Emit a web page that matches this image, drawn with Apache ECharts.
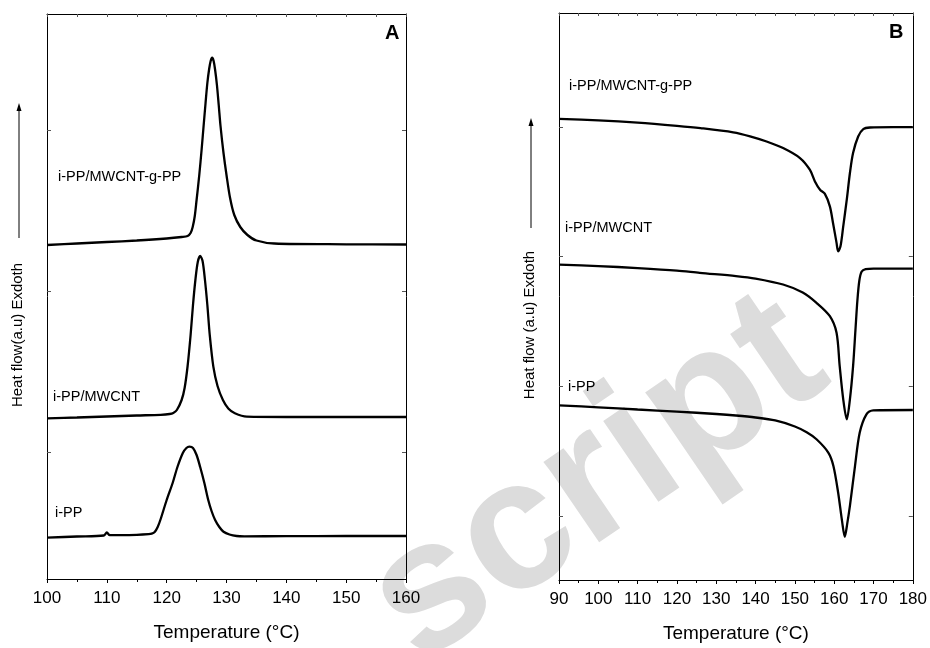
<!DOCTYPE html>
<html>
<head>
<meta charset="utf-8">
<script src="https://cdn.jsdelivr.net/npm/echarts@6/dist/echarts.min.js"></script>
<style>
  html, body { margin: 0; padding: 0; background: #fff; }
  #chart { width: 930px; height: 648px; }
</style>
</head>
<body>
<div id="chart"></div>
<script>
// Panel A: crystallisation (cooling) curves, heat flow in arbitrary units
var tempA_iPP = [100, 105, 109.5, 110, 110.5, 115, 117, 117.5, 118, 118.5, 119, 120, 121, 121.8, 122.7, 123.3, 123.8, 124.4, 125, 125.6, 126.3, 126.95, 127.5, 128.1, 128.8, 129.5, 130.5, 131.7, 133, 140, 150, 160];
var flowA_iPP = [41.3, 42.5, 43.5, 46.5, 43.8, 44.2, 44.8, 45.3, 47, 52, 60, 79, 96, 112, 126, 131, 132.3, 131, 124, 112, 96, 79, 68, 59, 52, 47.3, 44.5, 43, 42.7, 42.8, 43, 43];

var tempA_cnt = [100, 105, 110, 115, 119, 120.5, 121.1, 121.7, 122.5, 123, 123.5, 124, 124.4, 124.8, 125.2, 125.6, 126, 126.4, 126.8, 127.2, 127.8, 128.5, 129.4, 130.3, 131.4, 133.4, 140, 150, 160];
var flowA_cnt = [160.7, 161.5, 162.5, 163.5, 164.2, 165, 166, 169, 179, 191, 213, 244, 274, 299, 317, 323, 318, 299, 274, 244, 212.3, 193, 179, 170.5, 165.7, 162.3, 162, 162, 162];

var tempA_g = [100, 105, 110, 115, 120, 122.5, 123.5, 124.0, 124.35, 124.7, 125.0, 125.45, 125.85, 126.2, 126.5, 126.8, 127.1, 127.35, 127.6, 127.85, 128.1, 128.4, 128.7, 129.0, 129.5, 130.0, 130.6, 131.3, 132.3, 133.5, 135, 138, 150, 160];
var flowA_g = [334, 335.5, 337, 338.5, 340.5, 342, 343, 346, 352, 363, 379, 404, 430, 455, 476, 496, 510, 518, 521.3, 518, 509, 494, 474, 453, 426, 404, 381, 364, 352, 344, 338.5, 335.5, 334.7, 334.5];

// Panel B: melting (heating) curves
var tempB_iPP = [90, 100, 110, 120, 130, 135, 140, 145, 150, 153, 155.5, 158.5, 159.8, 161.0, 162.0, 162.7, 163.3, 164.0, 165.3, 166.5, 168.2, 169.9, 180];
var flowB_iPP = [175, 173, 170.8, 168.7, 166.3, 164.8, 162.8, 159.8, 153.8, 148, 141, 127.7, 114.3, 87.7, 59, 43.3, 56, 74.3, 114.3, 147.7, 166, 170, 170.3];

var tempB_cnt = [90, 100, 110, 120, 125.8, 135, 140, 147, 152, 155.5, 158.9, 160.6, 161.4, 162.3, 163.2, 164.0, 164.8, 165.4, 165.9, 166.4, 167.0, 168, 170, 180];
var flowB_cnt = [316, 314.5, 312.5, 310, 307.7, 304.5, 302, 296, 288, 277.7, 264.3, 247.7, 214.3, 181, 161, 181, 214, 250, 280, 300, 309, 311.5, 312, 312];

var tempB_g = [90, 100, 110, 120, 126, 134.3, 138.6, 142.8, 147, 151.3, 153.8, 155.1, 156.4, 157.6, 158.9, 159.7, 160.6, 161.0, 161.6, 162.3, 163.2, 164.0, 164.8, 166.1, 167.4, 169.1, 175, 180];
var flowB_g = [462, 460.5, 458.2, 455, 452.7, 448.5, 444.5, 439.3, 432.7, 422.7, 411, 399.3, 391, 387, 374.3, 357.7, 337.7, 329.3, 334.3, 354.3, 381, 407.7, 427.7, 444.3, 451.7, 453.3, 453.7, 453.7];

var ticksA = [127, 288, 449];
var ticksB = [64, 194, 324, 454];

var FONT = "'Liberation Sans', Arial, sans-serif";

function zip(xs, ys) {
  var out = [];
  for (var i = 0; i < xs.length; i++) out.push([xs[i], ys[i]]);
  return out;
}

function bottomAxis(grid, min, max) {
  return {
    type: "value", gridIndex: grid, position: "bottom", min: min, max: max, interval: 10,
    name: "Temperature (\u00B0C)", nameLocation: "middle", nameGap: 44,
    nameTextStyle: { fontFamily: FONT, fontSize: 19, color: "#000" },
    axisLine: { show: true, onZero: false, lineStyle: { color: "#000", width: 1 } },
    axisTick: { show: true, inside: false, length: 4, lineStyle: { color: "#000" } },
    minorTick: { show: true, splitNumber: 2, length: 3, lineStyle: { color: "#000" } },
    axisLabel: { fontFamily: FONT, fontSize: 17, color: "#000", margin: 11 },
    splitLine: { show: false }
  };
}
function topAxis(grid, min, max) {
  return {
    type: "value", gridIndex: grid, position: "top", min: min, max: max, interval: 10,
    axisLine: { show: true, onZero: false, lineStyle: { color: "#000", width: 1 } },
    axisTick: { show: true, inside: true, length: 3, lineStyle: { color: "#555" } },
    minorTick: { show: true, splitNumber: 2, length: 3, lineStyle: { color: "#555" } },
    axisLabel: { show: false },
    splitLine: { show: false }
  };
}
function sideAxis(grid, pos, max, ticks) {
  return {
    type: "value", gridIndex: grid, position: pos, min: 0, max: max,
    axisLine: { show: true, onZero: false, lineStyle: { color: "#000", width: 1 } },
    axisTick: { show: true, inside: true, length: 4, customValues: ticks, lineStyle: { color: "#555" } },
    axisLabel: { show: false },
    splitLine: { show: false }
  };
}
function curve(xi, yi, data) {
  return {
    type: "line", xAxisIndex: xi, yAxisIndex: yi, data: data,
    showSymbol: false, smooth: 0.3,
    lineStyle: { color: "#000", width: 2.3 }, z: 5, silent: true
  };
}
function label(x, y, text) {
  return { type: "text", x: x, y: y, z: 10,
    style: { text: text, fontFamily: FONT, fontSize: 14.5, fill: "#000", textVerticalAlign: "middle" } };
}
function arrow(x, y1, y2) {
  return [
    { type: "line", shape: { x1: x, y1: y1, x2: x, y2: y2 + 6 }, style: { stroke: "#000", lineWidth: 1 }, z: 10 },
    { type: "polygon", shape: { points: [[x, y2], [x - 2.5, y2 + 8], [x + 2.5, y2 + 8]] }, style: { fill: "#000" }, z: 10 }
  ];
}

var chart = echarts.init(document.getElementById("chart"), null, { renderer: "canvas" });

var graphics = [
  // faint "Accepted Manuscript" style watermark
  { type: "text", x: 442, y: 700, rotation: 0.6, z: 0,
    style: { text: "script", fontFamily: FONT, fontWeight: "bold", fontSize: 185, fill: "#dcdcdc", textVerticalAlign: "bottom" } },
  label(58, 177, "i-PP/MWCNT-g-PP"),
  label(53, 397, "i-PP/MWCNT"),
  label(55, 513, "i-PP"),
  label(569, 86, "i-PP/MWCNT-g-PP"),
  label(565, 228, "i-PP/MWCNT"),
  label(568, 387, "i-PP"),
  { type: "text", x: 385, y: 33, z: 10,
    style: { text: "A", fontFamily: FONT, fontWeight: "bold", fontSize: 20, fill: "#000", textVerticalAlign: "middle" } },
  { type: "text", x: 889, y: 32, z: 10,
    style: { text: "B", fontFamily: FONT, fontWeight: "bold", fontSize: 20, fill: "#000", textVerticalAlign: "middle" } },
  { type: "text", x: 18, y: 335, rotation: Math.PI / 2, z: 10,
    style: { text: "Heat flow(a.u) Exdoth", fontFamily: FONT, fontSize: 15, fill: "#000", textAlign: "center", textVerticalAlign: "middle" } },
  { type: "text", x: 530, y: 325, rotation: Math.PI / 2, z: 10,
    style: { text: "Heat flow (a.u) Exdoth", fontFamily: FONT, fontSize: 15, fill: "#000", textAlign: "center", textVerticalAlign: "middle" } }
].concat(arrow(19, 238, 103)).concat(arrow(531, 228, 118));

var option = {
  animation: false,
  backgroundColor: "#fff",
  grid: [
    { left: 47, top: 14, width: 359, height: 565 },
    { left: 559, top: 13, width: 354, height: 568 }
  ],
  xAxis: [
    bottomAxis(0, 100, 160), topAxis(0, 100, 160),
    bottomAxis(1, 90, 180), topAxis(1, 90, 180)
  ],
  yAxis: [
    sideAxis(0, "left", 565, ticksA), sideAxis(0, "right", 565, ticksA),
    sideAxis(1, "left", 568, ticksB), sideAxis(1, "right", 568, ticksB)
  ],
  graphic: graphics,
  series: [
    curve(0, 0, zip(tempA_iPP, flowA_iPP)),
    curve(0, 0, zip(tempA_cnt, flowA_cnt)),
    curve(0, 0, zip(tempA_g, flowA_g)),
    curve(2, 2, zip(tempB_iPP, flowB_iPP)),
    curve(2, 2, zip(tempB_cnt, flowB_cnt)),
    curve(2, 2, zip(tempB_g, flowB_g))
  ]
};
chart.setOption(option);
</script>
</body>
</html>
